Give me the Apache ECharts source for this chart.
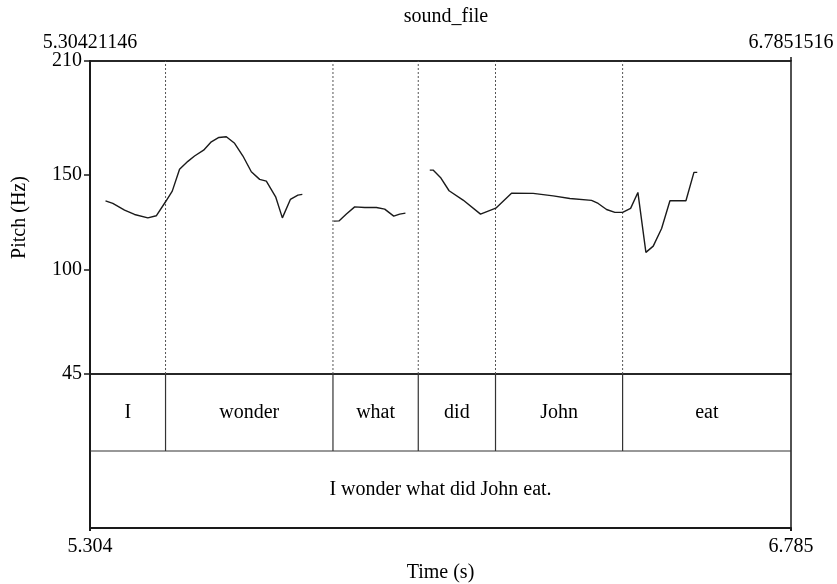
<!DOCTYPE html>
<html><head><meta charset="utf-8">
<script src="https://cdn.jsdelivr.net/npm/echarts@6/dist/echarts.min.js"></script>
<style>html,body{margin:0;padding:0;background:#fff}#c{width:837px;height:584px}</style>
</head><body><div id="c"></div>
<script>
const xMin = 5.30421146, xMax = 6.7851516;
const yMin = 45, yMax = 210;
const yTicks = [45, 100, 150, 210];
const title = 'sound_file';
// pitch contour (time s, Hz); null marks an unvoiced gap
const pitchTime = [5.3370,5.3524,5.3772,5.3983,5.4264,5.4442,5.4638,5.4780,5.4934,5.5110,5.5251,5.5442,5.5605,5.5765,5.5922,5.6097,5.6273,5.6450,5.6626,5.6767,5.6964,5.7106,5.7275,5.7435,5.7528,
  5.79,
  5.8190,5.8302,5.8459,5.8634,5.8846,5.9093,5.9268,5.9459,5.9585,5.9706,
  6.00,
  6.0220,6.0290,6.0446,6.0628,6.0924,6.1292,6.1615,6.1947,6.2404,6.2827,6.3180,6.3638,6.3778,6.3955,6.4131,6.4294,6.4463,6.4617,6.4786,6.4941,6.5118,6.5294,6.5632,6.5801,6.5871];
const pitchHz = [136.3,134.9,131.4,129.1,127.3,128.4,135.8,141.4,152.9,157.1,159.9,163.0,167.4,169.7,170.1,166.6,159.9,151.6,147.6,146.7,138.4,127.3,137.0,139.3,139.7,
  null,
  125.6,125.7,129.3,133.1,132.8,132.8,131.9,128.2,129.3,129.8,
  null,
  152.5,152.5,148.6,141.6,136.7,129.3,132.4,140.3,140.2,138.9,137.5,136.5,134.9,131.7,130.2,130.2,132.3,140.7,109.1,112.4,121.7,136.3,136.3,151.3,151.3];
const tierBounds = [5.30421146, 5.4638, 5.8175, 5.9977, 6.1609, 6.4294, 6.7851516];
const tierWords = ['I', 'wonder', 'what', 'did', 'John', 'eat'];
const sentence = 'I wonder what did John eat.';
const xName = 'Time (s)', yName = 'Pitch (Hz)';

const FONT = '"Liberation Serif", "Times New Roman", serif';
const FS = 20;
const dark = '#1a1a1a';

const pitchData = pitchTime.map((t, i) => [t, pitchHz[i]]);
const wordData = tierWords.map((w, i) => [tierBounds[i], tierBounds[i + 1], 1, 2]);
const dotData = tierBounds.slice(1, -1).map(t => [t, yMin, yMax]);

const chart = echarts.init(document.getElementById('c'));
chart.setOption({
  animation: false,
  backgroundColor: '#fff',
  title: { text: title, left: 441, textAlign: 'center', top: 2,
    textStyle: { fontFamily: FONT, fontSize: FS, fontWeight: 'normal', color: '#000' } },
  grid: [
    { left: 90, right: 46, top: 61, height: 313, show: true, borderColor: dark, borderWidth: 1.5, backgroundColor: 'transparent' },
    { left: 90, right: 46, top: 374, height: 156, show: true, borderColor: dark, borderWidth: 1.5, backgroundColor: 'transparent' }
  ],
  xAxis: [
    { type: 'value', gridIndex: 0, position: 'top', min: xMin, max: xMax,
      axisLine: { show: true, lineStyle: { color: dark, width: 1.5 } },
      axisTick: { show: true, customValues: [xMax], length: 4, lineStyle: { color: dark, width: 1.5 } },
      axisLabel: { show: true, customValues: [xMin, xMax], formatter: v => String(v), margin: 8,
        fontFamily: FONT, fontSize: FS, color: '#000' },
      splitLine: { show: false } },
    { type: 'value', gridIndex: 1, position: 'bottom', min: xMin, max: xMax,
      name: xName, nameLocation: 'middle', nameGap: 35,
      nameTextStyle: { fontFamily: FONT, fontSize: FS, color: '#000' },
      axisLine: { show: true, lineStyle: { color: dark, width: 2 } },
      axisTick: { show: true, customValues: [xMin, xMax], length: 3, lineStyle: { color: dark, width: 2 } },
      axisLabel: { show: true, customValues: [xMin, xMax], formatter: v => v.toFixed(3), margin: 9,
        fontFamily: FONT, fontSize: FS, color: '#000' },
      splitLine: { show: false } }
  ],
  yAxis: [
    { type: 'value', gridIndex: 0, min: yMin, max: yMax,
      name: yName, nameLocation: 'middle', nameGap: 60, nameRotate: 90,
      nameTextStyle: { fontFamily: FONT, fontSize: FS, color: '#000' },
      axisLine: { show: true, lineStyle: { color: dark, width: 2 } },
      axisTick: { show: true, customValues: yTicks, length: 6, lineStyle: { color: dark, width: 1.5 } },
      axisLabel: { show: true, customValues: yTicks, margin: 8, fontFamily: FONT, fontSize: FS, color: '#000' },
      splitLine: { show: false } },
    { type: 'value', gridIndex: 1, min: 0, max: 2,
      axisLine: { show: true, lineStyle: { color: dark, width: 2 } },
      axisTick: { show: false }, axisLabel: { show: false }, splitLine: { show: false } }
  ],
  series: [
    { type: 'custom', xAxisIndex: 0, yAxisIndex: 0, data: dotData, encode: { x: 0, y: [1, 2] }, silent: true,
      renderItem: (params, api) => {
        const a = api.coord([api.value(0), api.value(1)]);
        const b = api.coord([api.value(0), api.value(2)]);
        return { type: 'line', shape: { x1: a[0], y1: a[1], x2: b[0], y2: b[1] },
          style: { stroke: '#555', lineWidth: 1, lineDash: [2, 2] } };
      } },
    { type: 'line', xAxisIndex: 0, yAxisIndex: 0, data: pitchData, showSymbol: false, connectNulls: false,
      lineStyle: { color: dark, width: 1.4 }, silent: true, z: 3 },
    { type: 'custom', xAxisIndex: 1, yAxisIndex: 1, data: wordData, encode: { x: [0, 1], y: [2, 3] }, silent: true,
      renderItem: (params, api) => {
        const p0 = api.coord([api.value(0), api.value(3)]);
        const p1 = api.coord([api.value(1), api.value(2)]);
        const children = [{ type: 'text', style: { text: tierWords[params.dataIndex],
          x: (p0[0] + p1[0]) / 2, y: (p0[1] + p1[1]) / 2, align: 'center', verticalAlign: 'middle',
          font: FS + 'px ' + FONT, fill: '#000' } }];
        if (params.dataIndex > 0) children.push({ type: 'line',
          shape: { x1: p0[0], y1: p0[1], x2: p0[0], y2: p1[1] }, style: { stroke: '#333', lineWidth: 1.2 } });
        return { type: 'group', children };
      } },
    { type: 'custom', xAxisIndex: 1, yAxisIndex: 1, data: [[xMin, xMax, 0, 1]], encode: { x: [0, 1], y: [2, 3] }, silent: true,
      renderItem: (params, api) => {
        const p0 = api.coord([api.value(0), api.value(3)]);
        const p1 = api.coord([api.value(1), api.value(2)]);
        return { type: 'group', children: [
          { type: 'line', shape: { x1: p0[0], y1: p0[1], x2: p1[0], y2: p0[1] }, style: { stroke: '#333', lineWidth: 1.2 } },
          { type: 'text', style: { text: sentence, x: (p0[0] + p1[0]) / 2, y: (p0[1] + p1[1]) / 2,
            align: 'center', verticalAlign: 'middle', font: FS + 'px ' + FONT, fill: '#000' } }
        ] };
      } }
  ]
});
</script></body></html>
